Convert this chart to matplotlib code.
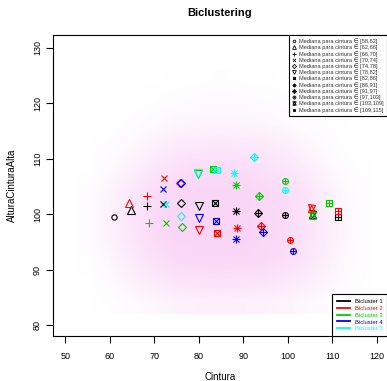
import numpy as np
import matplotlib
matplotlib.use("Agg")
import matplotlib.pyplot as plt
from matplotlib.colors import LinearSegmentedColormap
from matplotlib.legend_handler import HandlerTuple
from matplotlib.lines import Line2D

plt.rcParams["font.family"] = ["Liberation Sans", "DejaVu Sans"]

# ------------------------------------------------------------------ #
# data
# ------------------------------------------------------------------ #
classes = ["[58,62]", "[62,66]", "[66,70]", "[70,74]", "[74,78]", "[78,82]",
           "[82,86]", "[86,91]", "[91,97]", "[97,103]", "[103,109]", "[109,115]"]

nan = np.nan
b1_x = [61.0, 64.8, 68.4, 72.0, 76.0, 80.1, 83.7, 88.3, 93.4, 99.3, 105.4, 111.3]
b1_y = [99.5, 100.7, 101.4, 101.8, 102.1, 101.5, 102.1, 100.6, 100.2, 99.8, 100.1, 99.5]
b2_x = [nan, 64.4, 68.4, 72.3, 75.8, 80.1, 84.0, 88.7, 94.0, 100.5, 105.2, 111.3]
b2_y = [nan, 102.0, 103.2, 106.6, 105.7, 97.2, 96.6, 97.6, 97.9, 95.4, 101.1, 100.5]
b3_x = [nan, nan, 68.9, 72.6, 76.2, 79.8, 83.3, 88.3, 93.6, 99.3, 105.5, 109.2]
b3_y = [nan, nan, 98.4, 98.5, 97.7, 107.3, 108.1, 105.3, 103.3, 106.0, 99.9, 102.1]
b4_x = [nan, nan, nan, 72.0, 76.0, 80.1, 83.8, 88.3, 94.4, 101.1, nan, nan]
b4_y = [nan, nan, nan, 104.5, 105.6, 99.4, 98.8, 95.5, 96.8, 93.4, nan, nan]
b5_x = [nan, nan, nan, 72.6, 76.0, 79.9, 84.0, 88.0, 92.5, 99.3, nan, nan]
b5_y = [nan, nan, nan, 101.8, 99.7, 107.4, 108.0, 107.4, 110.4, 104.4, nan, nan]

bicluster_labels = ["Bicluster 1", "Bicluster 2", "Bicluster 3",
                    "Bicluster 4", "Bicluster 5"]

# background cloud of all individuals, as a coarse density grid
cloud_x = [55, 60, 65, 70, 75, 80, 85, 90, 95, 100, 105, 110, 115, 120]
cloud_y = [84, 88, 92, 96, 100, 104, 108, 112, 116, 120, 124]
cloud_density = [
    [0, 0.03, 0.1, 0.2, 0.3, 0.35, 0.35, 0.35, 0.3, 0.25, 0.15, 0.08, 0.02, 0],
    [0, 0.1, 0.3, 0.5, 0.65, 0.7, 0.75, 0.7, 0.65, 0.55, 0.4, 0.2, 0.05, 0],
    [0.02, 0.2, 0.5, 0.75, 0.9, 0.95, 0.95, 0.95, 0.9, 0.8, 0.6, 0.3, 0.08, 0],
    [0.05, 0.3, 0.6, 0.85, 1.0, 1.0, 1.0, 1.0, 0.95, 0.85, 0.65, 0.35, 0.1, 0],
    [0.05, 0.3, 0.6, 0.85, 1.0, 1.0, 1.0, 1.0, 0.95, 0.85, 0.65, 0.35, 0.1, 0],
    [0.03, 0.25, 0.55, 0.8, 0.95, 1.0, 1.0, 1.0, 0.9, 0.8, 0.6, 0.3, 0.08, 0],
    [0, 0.12, 0.35, 0.6, 0.75, 0.85, 0.85, 0.85, 0.75, 0.6, 0.4, 0.15, 0.03, 0],
    [0, 0.05, 0.15, 0.35, 0.5, 0.55, 0.6, 0.55, 0.5, 0.4, 0.2, 0.06, 0, 0],
    [0, 0, 0.05, 0.12, 0.22, 0.28, 0.3, 0.28, 0.22, 0.15, 0.06, 0.02, 0, 0],
    [0, 0, 0, 0.03, 0.06, 0.1, 0.12, 0.1, 0.08, 0.05, 0.02, 0, 0, 0],
    [0, 0, 0, 0, 0.01, 0.02, 0.03, 0.02, 0.01, 0, 0, 0, 0, 0],
]

# ------------------------------------------------------------------ #
# style helpers (R palette and pch symbols 1..12)
# ------------------------------------------------------------------ #
COLORS = ["black", "#FF0000", "#00CD00", "#0000FF", "#00FFFF"]
S = 4.2  # base symbol size, points
PCH = [
    [("o", 0.9)],
    [("^", 1.3)],
    [("+", 1.41)],
    [("x", 1.0)],
    [("D", 1.0)],
    [("v", 1.3)],
    [("s", 1.0), ("x", 1.0)],
    [("+", 1.41), ("x", 1.0)],
    [("D", 1.0), ("+", 1.41)],
    [("o", 1.0), ("+", 1.0)],
    [("^", 1.2), ("v", 1.2)],
    [("s", 1.0), ("+", 1.0)],
]


def _draw_symbol(ax, x, y, k, color, z):
    for m, sc in PCH[k]:
        ax.plot([x], [y], ls="none", marker=m, ms=S * sc, mfc="none",
                mec=color, mew=0.8, zorder=z)


def _legend_handle(k, scale=0.5):
    return tuple(Line2D([], [], ls="none", marker=m, ms=S * sc * scale,
                        mfc="none", mec="black", mew=0.6)
                 for m, sc in PCH[k])


# ------------------------------------------------------------------ #
# main
# ------------------------------------------------------------------ #
def main():
    W, H = 387, 381
    fig = plt.figure(figsize=(W / 100, H / 100), dpi=100)
    ax = fig.add_axes([53.3 / W, 1 - 336 / H, 1 - 53.3 / W, 301 / H])

    cmap = LinearSegmentedColormap.from_list("cloud", ["white", "#FAD6F6"])
    dx = (cloud_x[1] - cloud_x[0]) / 2
    dy = (cloud_y[1] - cloud_y[0]) / 2
    ax.imshow(np.array(cloud_density), origin="lower", cmap=cmap,
              vmin=0, vmax=1, interpolation="bilinear", aspect="auto",
              extent=[cloud_x[0] - dx, cloud_x[-1] + dx,
                      cloud_y[0] - dy, cloud_y[-1] + dy], zorder=0)

    series = [(b1_x, b1_y), (b2_x, b2_y), (b3_x, b3_y),
              (b4_x, b4_y), (b5_x, b5_y)]
    for b, (xs, ys) in enumerate(series):
        for k, (x, y) in enumerate(zip(xs, ys)):
            if np.isnan(x):
                continue
            _draw_symbol(ax, x, y, k, COLORS[b], 2 + b)

    ax.set_xlim(47.3, 122.34)
    ax.set_ylim(78.05, 132.3)
    ax.set_xticks(range(50, 121, 10))
    ax.set_yticks(range(80, 131, 10))
    ax.tick_params(direction="out", length=4.7, width=0.8, labelsize=6.5)
    ax.tick_params(axis="x", pad=6.5)
    ax.tick_params(axis="y", pad=3.4)
    plt.setp(ax.get_yticklabels(), rotation=90, va="center", ha="right")
    ax.spines["right"].set_visible(False)
    for s in ("left", "top", "bottom"):
        ax.spines[s].set_linewidth(0.8)

    # symbol legend (top right)
    handles = [_legend_handle(k) for k in range(len(classes))]
    labels = ["Mediana para cintura \u2208 " + c for c in classes]
    leg1 = ax.legend(handles, labels, loc="upper right",
                     bbox_to_anchor=(1, 1), borderaxespad=0, fontsize=4.1,
                     labelspacing=0.1, handlelength=0.8, handletextpad=0.4,
                     borderpad=0.6, numpoints=1, fancybox=False,
                     framealpha=1, edgecolor="black",
                     handler_map={tuple: HandlerTuple(ndivide=1)})
    leg1.get_frame().set_linewidth(0.8)
    for t in leg1.get_texts():
        t.set_color("#333333")
    ax.add_artist(leg1)

    # colour legend (bottom right)
    lines = [Line2D([], [], color=c, lw=1.3) for c in COLORS]
    leg2 = ax.legend(lines, bicluster_labels, loc="lower right",
                     bbox_to_anchor=(1, 0), borderaxespad=0, fontsize=4.2,
                     labelspacing=0.3, handlelength=2.2, handletextpad=0.85,
                     borderpad=0.8, fancybox=False, framealpha=1,
                     edgecolor="black", labelcolor="linecolor")
    leg2.get_frame().set_linewidth(0.8)

    fig.text(220 / W, 1 - 13 / H, "Biclustering", ha="center", va="center",
             fontsize=8, fontweight="bold")
    fig.text(220 / W, 1 - 377 / H, "Cintura", ha="center", va="center",
             fontsize=7)
    fig.text(12 / W, 1 - 185 / H, "AlturaCinturaAlta", ha="center",
             va="center", rotation=90, fontsize=7)

    fig.savefig("out.png", dpi=100)


if __name__ == "__main__":
    main()
